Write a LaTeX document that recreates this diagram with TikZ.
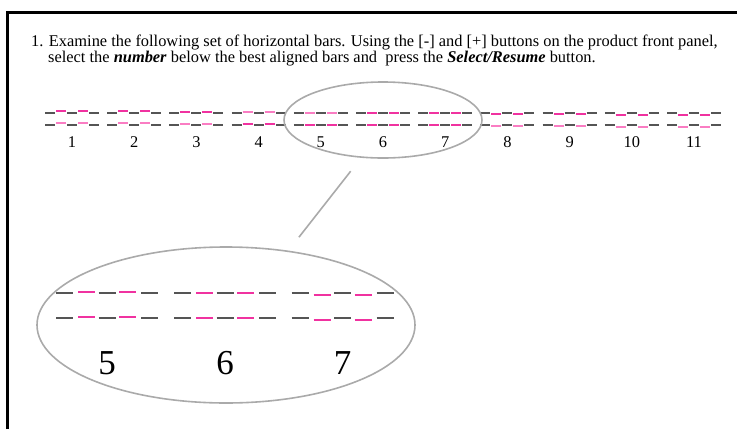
\documentclass[tikz,border=0pt]{standalone}
\usepackage{fontspec}
\setmainfont{Liberation Serif}
\usepackage{xcolor}
\usepackage{tikz}
\usetikzlibrary{positioning, shapes.geometric}

\definecolor{bardark}{RGB}{85,85,85}
\definecolor{pinkdeep}{RGB}{240,50,160}
\definecolor{pinklight}{RGB}{250,125,195}
\definecolor{lensgray}{RGB}{170,170,170}

\tikzset{
    seg/.style={line width=2pt, bardark},
    bigseg/.style={line width=2pt, bardark},
    lens/.style={draw=lensgray, line width=1.6pt, ellipse, inner sep=0pt},
    label/.style={font=\fontsize{16.4}{18}\selectfont},
    biglabel/.style={font=\fontsize{35}{38}\selectfont}
}

\begin{document}
\begin{tikzpicture}[x=1pt, y=-1pt]
        \useasboundingbox (0,0) rectangle (737,429);

        % Frame
        \draw[line width=3pt] (7.5,429) -- (7.5,12.5) -- (737,12.5);

        % Instruction
        \node (line1) [label, anchor=base west, inner sep=0pt] at (31,46) {1. Examine the following set of horizontal bars. Using the [-] and [+] buttons on the product front panel,};
        \node (line2) [label, anchor=base west, inner sep=0pt] at (48,62) {select the \textbf{\textit{number}} below the best aligned bars and\ \ press the \textbf{\textit{Select/Resume}} button.};

        % Small bars
        \foreach \k/\ctop/\cbot in {1/pinkdeep/pinklight, 2/pinkdeep/pinklight, 3/pinkdeep/pinklight, 4/pinklight/pinkdeep, 5/pinklight/pinkdeep, 6/pinkdeep/pinkdeep, 7/pinkdeep/pinkdeep, 8/pinkdeep/pinklight, 9/pinkdeep/pinklight, 10/pinkdeep/pinklight, 11/pinkdeep/pinklight} {
            \pgfmathsetmacro\cx{72+62.2*(\k-1)}
            \pgfmathsetmacro\dy{0.45*(\k-6)}
            \foreach \row/\col in {113/\ctop, 125/\cbot} {
                \draw[seg] (\cx-27,\row) -- (\cx-17,\row);
                \draw[seg, \col] (\cx-16,\row+\dy) -- (\cx-6,\row+\dy);
                \draw[seg] (\cx-5,\row) -- (\cx+5,\row);
                \draw[seg, \col] (\cx+6,\row+\dy) -- (\cx+16,\row+\dy);
                \draw[seg] (\cx+17,\row) -- (\cx+27,\row);
            }
            \node (n\k) [label] at (\cx,142) {\k};
        }

        % Zoomed bars
        \foreach \k/\cx/\dy in {5/107/-1, 6/225/0, 7/342.5/1.5} {
            \foreach \row in {293, 318} {
                \draw[bigseg] (\cx-51,\row) -- (\cx-34,\row);
                \draw[bigseg, pinkdeep] (\cx-29,\row+\dy) -- (\cx-12,\row+\dy);
                \draw[bigseg] (\cx-8.5,\row) -- (\cx+8.5,\row);
                \draw[bigseg, pinkdeep] (\cx+12,\row+\dy) -- (\cx+29,\row+\dy);
                \draw[bigseg] (\cx+34,\row) -- (\cx+51,\row);
            }
            \node (z\k) [biglabel] at (\cx,363) {\k};
        }

        % Lenses
        \node (lenssmall) [lens, minimum width=198pt, minimum height=76pt] at (383,120) {};
        \node (lensbig) [lens, minimum width=378pt, minimum height=156pt] at (226,325) {};

        % Lens connector
        \draw[lensgray, line width=1.6pt, shorten <=17pt, shorten >=17pt] (lenssmall.240) -- (lensbig.50);
    \end{tikzpicture}
\end{document}
